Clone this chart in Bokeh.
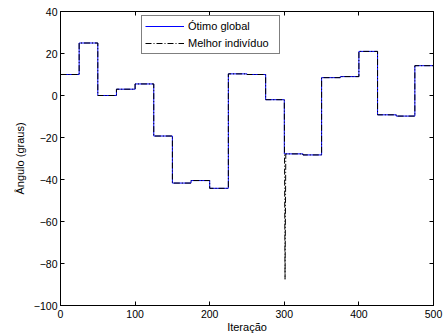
from bokeh.plotting import figure
from bokeh.models import Legend, LegendItem, LinearAxis, FixedTicker, Range1d
from bokeh.embed import file_html
from bokeh.resources import INLINE

# ---- data ----
iter_breaks = [0, 25, 50, 75, 100, 125, 150, 175, 200, 225, 250,
               275, 300, 325, 350, 375, 400, 425, 450, 475, 500]
otimo_global = [10, 25, 0, 3, 5.5, -19.3, -41.7, -40.5, -44.2, 10.3,
                10, -2, -27.8, -28.3, 8.5, 9, 21, -9.2, -9.8, 14.2]
melhor_individuo = [10, 25, 0, 3, 5.5, -19.3, -41.7, -40.5, -44.2, 10.3,
                    10, -2, -27.8, -28.3, 8.5, 9, 21, -9.2, -9.8, 14.2]
spike_iter = [301]
spike_valor = [-87.5]

x_ticks = [0, 100, 200, 300, 400, 500]
x_tick_labels = ["0", "100", "200", "300", "400", "500"]
y_ticks = [-100, -80, -60, -40, -20, 0, 20, 40]
y_tick_labels = ["\u2212100", "\u221280", "\u221260", "\u221240", "\u221220", "0", "20", "40"]

FONT = "Liberation Sans"

p = figure(width=446, height=336, output_backend="svg", toolbar_location=None,
           x_range=Range1d(0, 500), y_range=Range1d(-100, 40),
           min_border_left=60, min_border_right=13, min_border_top=11,
           min_border_bottom=31, x_axis_location=None, y_axis_location=None)
p.grid.visible = False
p.outline_line_color = "black"
p.outline_line_width = 1
p.background_fill_color = "white"
p.border_fill_color = "white"

def style_axis(ax, ticks, labels, show_labels):
    ax.ticker = FixedTicker(ticks=ticks)
    ax.major_tick_in = 4
    ax.major_tick_out = 0
    ax.minor_tick_line_color = None
    ax.axis_line_color = "black"
    ax.major_tick_line_color = "black"
    ax.major_label_text_font = FONT
    ax.axis_label_text_font = FONT
    ax.axis_label_text_font_style = "normal"
    ax.axis_label_text_color = "black"
    if show_labels:
        ax.major_label_overrides = {t: l for t, l in zip(ticks, labels)}
        ax.major_label_text_color = "black"
        ax.major_label_text_font_size = "10.5px"
        ax.axis_label_text_font_size = "11px"
    else:
        ax.major_label_text_color = None
        ax.major_label_text_font_size = "1px"
        ax.major_label_standoff = 0

xb = LinearAxis(axis_label="Iteração")
style_axis(xb, x_ticks, x_tick_labels, True)
xb.major_label_standoff = 4
xb.axis_label_standoff = 0
p.add_layout(xb, "below")

yl = LinearAxis(axis_label="Ângulo (graus)")
style_axis(yl, y_ticks, y_tick_labels, True)
yl.major_label_standoff = 3
yl.axis_label_standoff = 5
p.add_layout(yl, "left")

xt = LinearAxis()
style_axis(xt, x_ticks, x_tick_labels, False)
p.add_layout(xt, "above")

yr = LinearAxis()
style_axis(yr, y_ticks, y_tick_labels, False)
p.add_layout(yr, "right")

# global optimum (blue step)
r_blue = p.step(x=iter_breaks, y=otimo_global + [otimo_global[-1]], mode="after",
                line_color="#0000ff", line_width=1)

# best individual (black dash-dot)
xs, ys = [], []
for i, v in enumerate(melhor_individuo):
    x0, x1 = iter_breaks[i], iter_breaks[i + 1]
    for si, sv in zip(spike_iter, spike_valor):
        if x0 == si - 1:
            xs.append(si)
            ys.append(sv)
            x0 = si + 1
    xs += [x0, x1]
    ys += [v, v]
r_black = p.line(xs, ys, line_color="black", line_width=1, line_dash="6 2 1 2")

legend = Legend(items=[LegendItem(label="Ótimo global", renderers=[r_blue]),
                       LegendItem(label="Melhor indivíduo", renderers=[r_black])],
                location=(81, 251))
legend.border_line_color = "black"
legend.border_line_width = 1
legend.background_fill_color = "white"
legend.background_fill_alpha = 1
legend.label_text_font = FONT
legend.label_text_font_size = "11px"
legend.label_text_color = "black"
legend.glyph_width = 39
legend.glyph_height = 14
legend.label_height = 14
legend.label_width = 88
legend.label_standoff = 4
legend.spacing = 3
legend.padding = 3
legend.margin = 0
p.add_layout(legend, "center")

open("out.html", "w").write(file_html(p, INLINE))
